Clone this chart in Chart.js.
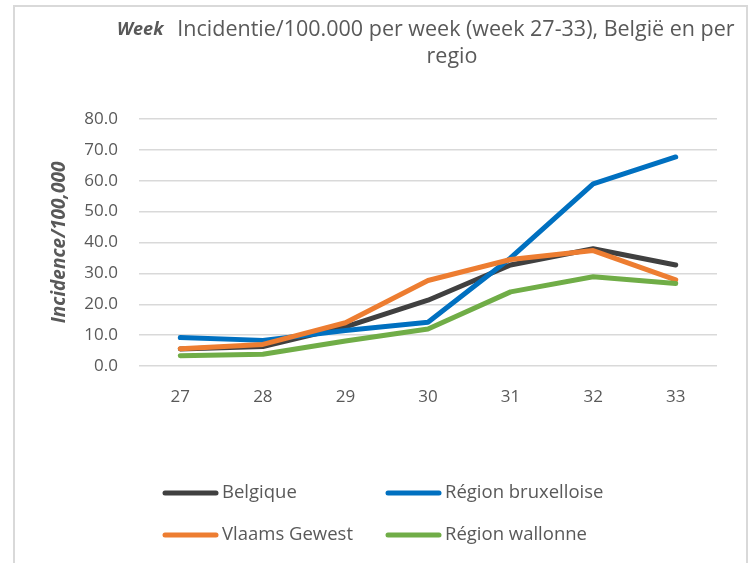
<!DOCTYPE html>
<html>
<head>
<meta charset="utf-8">
<script src="https://cdn.jsdelivr.net/npm/chart.js@4/dist/chart.umd.min.js"></script>
<style>
  html, body { margin: 0; padding: 0; background: #fff; }
  #wrap { position: relative; width: 752px; height: 563px; overflow: hidden; }
  #frame { position: absolute; left: 13px; top: 5px; width: 731px; height: 600px; border: 2px solid #d9d9d9; }
  canvas { position: absolute; left: 0; top: 0; }
</style>
</head>
<body>
<div id="wrap">
  <div id="frame"></div>
  <canvas id="chart" width="752" height="563"></canvas>
</div>
<script>
// Semaines et incidence par 100 000 habitants
const weeks = ['27', '28', '29', '30', '31', '32', '33'];
const belgique = [5.5, 6.3, 12.7, 21.3, 32.7, 38.0, 32.7];
const bruxelles = [9.2, 8.3, 11.5, 14.2, 35.0, 59.0, 67.7];
const vlaams = [5.6, 7.0, 14.0, 27.7, 34.5, 37.4, 27.9];
const wallonne = [3.3, 3.8, 8.1, 12.0, 24.0, 28.9, 26.7];
const seriesNames = ['Belgique', 'Région bruxelloise', 'Vlaams Gewest', 'Région wallonne'];
const seriesColors = ['#404040', '#0070c0', '#ed7d31', '#70ad47'];
const titleLines = ['Incidentie/100.000 per week (week 27-33), België en per', 'regio'];

const FONT = '"Open Sans", Lato, sans-serif';
const GREY = '#595959';

// Titre + légende dessinés à la main
const decor = {
  id: 'decor',
  afterDraw(chart) {
    const ctx = chart.ctx;
    ctx.save();
    ctx.fillStyle = GREY;
    ctx.textBaseline = 'middle';
    ctx.font = 'italic bold 18px ' + FONT;
    ctx.textAlign = 'left';
    ctx.fillText('Week', 117, 30);
    ctx.font = '21.5px ' + FONT;
    ctx.textAlign = 'center';
    ctx.fillText(titleLines[0], 456, 30);
    ctx.fillText(titleLines[1], 452, 57);

    // légende 2 x 2
    const cols = [163, 386];
    const rows = [493, 535];
    ctx.font = '18.5px ' + FONT;
    ctx.textAlign = 'left';
    chart.data.datasets.forEach((ds, i) => {
      const x = cols[i % 2], y = rows[Math.floor(i / 2)];
      ctx.strokeStyle = ds.borderColor;
      ctx.lineWidth = 5;
      ctx.lineCap = 'round';
      ctx.beginPath();
      ctx.moveTo(x + 2, y);
      ctx.lineTo(x + 53, y);
      ctx.stroke();
      ctx.fillText(ds.label, x + 59, y);
    });
    ctx.restore();
  }
};

const series = [belgique, bruxelles, vlaams, wallonne];
const ctx = document.getElementById('chart').getContext('2d');
const chart = new Chart(ctx, {
  type: 'line',
  data: {
    labels: weeks,
    datasets: series.map((vals, i) => ({
      label: seriesNames[i],
      data: vals,
      borderColor: seriesColors[i],
      backgroundColor: seriesColors[i],
      borderWidth: 5,
      pointRadius: 0,
      tension: 0,
      borderCapStyle: 'round',
      borderJoinStyle: 'round',
      order: series.length - i // la dernière série par-dessus
    }))
  },
  options: {
    responsive: false,
    animation: false,
    layout: { padding: { left: 44, right: 35, top: 119, bottom: 147 } },
    plugins: {
      legend: { display: false },
      title: { display: false },
      tooltip: { enabled: false }
    },
    scales: {
      x: {
        offset: true,
        grid: { display: false },
        border: { display: false },
        ticks: { color: GREY, font: { family: FONT, size: 17 }, padding: 13 },
        afterFit: (s) => { s.height = 50; }
      },
      y: {
        min: 0,
        max: 80,
        grid: { color: '#d9d9d9', lineWidth: 1.5, drawTicks: false },
        border: { display: false },
        ticks: {
          stepSize: 10,
          color: GREY,
          font: { family: FONT, size: 17 },
          padding: 21,
          callback: (v) => v.toFixed(1)
        },
        title: {
          display: true,
          text: 'Incidence/100,000',
          color: GREY,
          font: { family: FONT, size: 19, style: 'italic', weight: 'bold' }
        },
        afterFit: (s) => { s.width = 95; }
      }
    }
  },
  plugins: [decor]
});
</script>
</body>
</html>
